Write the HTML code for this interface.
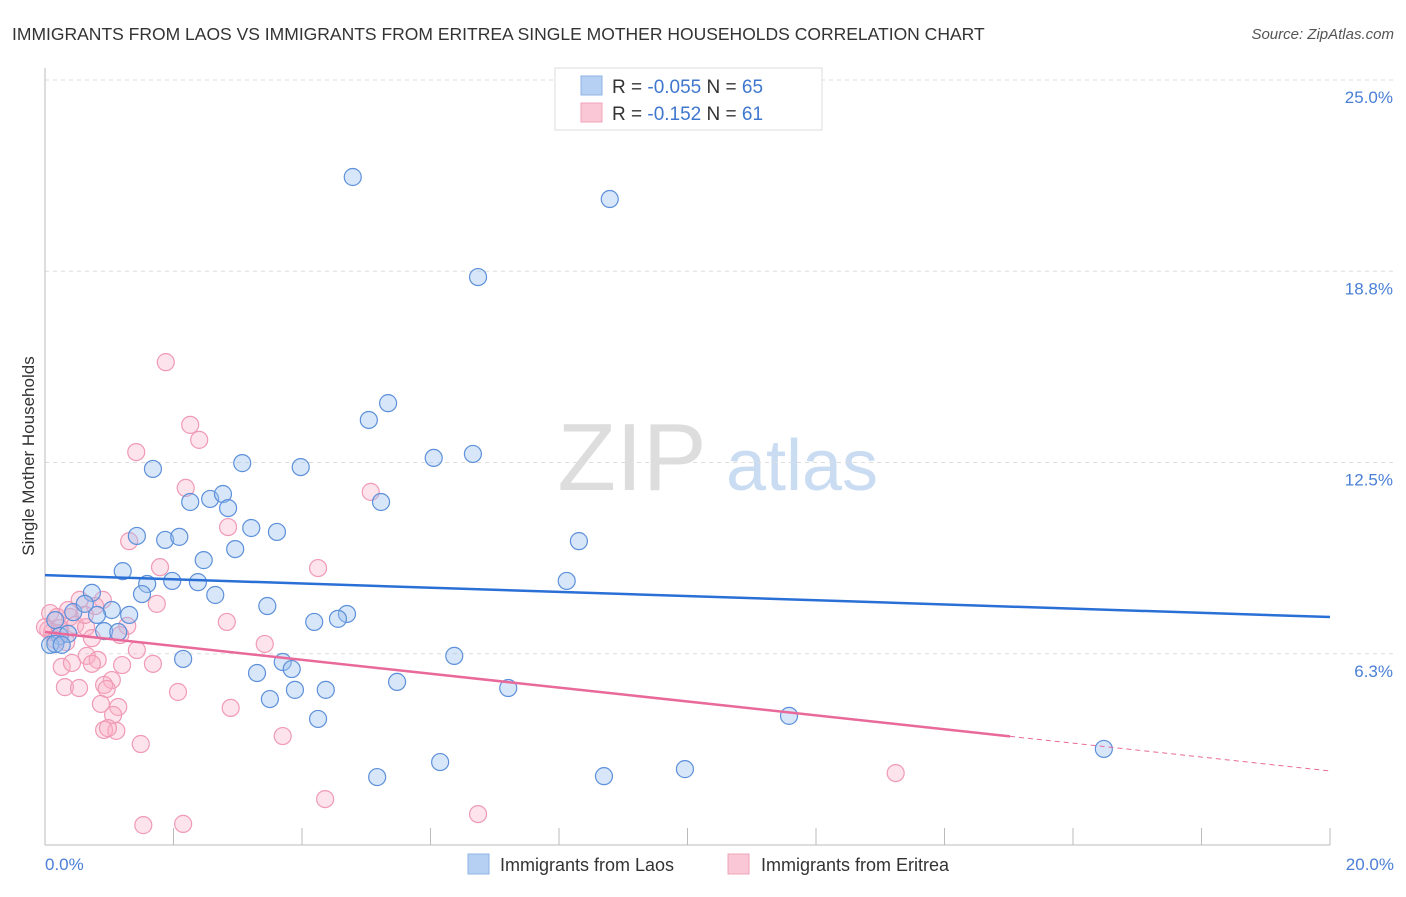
<!DOCTYPE html>
<html><head><meta charset="utf-8"><style>
body{margin:0;background:#fff;font-family:"Liberation Sans",sans-serif;}
svg text{font-family:"Liberation Sans",sans-serif;}
</style></head><body>
<svg id="c" width="1406" height="892" xmlns="http://www.w3.org/2000/svg">
<text x="12" y="40" font-size="17.5" fill="#333">IMMIGRANTS FROM LAOS VS IMMIGRANTS FROM ERITREA SINGLE MOTHER HOUSEHOLDS CORRELATION CHART</text>
<text x="1394" y="39" font-size="15" fill="#555" text-anchor="end" font-style="italic">Source: ZipAtlas.com</text>
<text x="632" y="490" font-size="96" fill="#ddd" text-anchor="middle" font-family="Liberation Serif">ZIP</text>
<text x="802" y="490" font-size="72" fill="#c9dcf2" text-anchor="middle">atlas</text>
<text transform="translate(34,456) rotate(-90)" font-size="17" fill="#333" text-anchor="middle">Single Mother Households</text>
<g id="grid"></g><g id="pts"></g><g id="lines"></g>
<g>
<rect x="555" y="68" width="267" height="62" fill="#fff" stroke="#ddd"/>
<rect x="581" y="76" width="21" height="19" fill="#b6d0f3" stroke="#8fb3e6"/>
<rect x="581" y="103" width="21" height="19" fill="#fac7d6" stroke="#f0a3bb"/>
<text x="612" y="93" font-size="19" fill="#333">R = <tspan fill="#3f77cf">-0.055</tspan>   N = <tspan fill="#3f77cf">65</tspan></text>
<text x="612" y="120" font-size="19" fill="#333">R =  <tspan fill="#3f77cf"> -0.152</tspan>   N =  <tspan fill="#3f77cf">61</tspan></text>
</g>
<g>
<rect x="468" y="854" width="21" height="20" fill="#b6d0f3" stroke="#8fb3e6"/>
<text x="500" y="871" font-size="18" fill="#333">Immigrants from Laos</text>
<rect x="728" y="854" width="21" height="20" fill="#fac7d6" stroke="#f0a3bb"/>
<text x="761" y="871" font-size="18" fill="#333">Immigrants from Eritrea</text>
</g>
</svg>
<script>
const yTicks=[25,18.75,12.5,6.25];
const yTickLabels=["25.0%","18.8%","12.5%","6.3%"];
const xTickLabels=["0.0%","20.0%"];
const laosX=[4.79,8.79,6.74,5.34,5.04,6.05,6.66,1.68,3.07,3.98,2.26,2.57,2.77,2.85,5.23,3.21,3.61,1.43,1.87,2.09,2.96,2.47,8.31,1.21,1.59,1.98,2.38,8.12,1.51,2.65,0.73,3.46,1.04,0.44,0.81,1.31,4.70,4.56,4.19,0.92,1.14,0.62,0.16,0.23,0.36,0.08,0.16,0.26,2.15,3.70,6.37,3.84,3.30,4.37,3.89,5.48,7.21,3.50,4.25,11.58,16.48,6.15,5.17,8.70,9.96];
const laosY=[21.83,21.11,18.56,14.44,13.89,12.65,12.78,12.29,12.48,12.35,11.21,11.31,11.47,11.01,11.21,10.36,10.23,10.10,9.97,10.07,9.67,9.31,9.93,8.95,8.53,8.63,8.59,8.63,8.20,8.17,8.24,7.81,7.68,7.61,7.52,7.52,7.55,7.39,7.29,6.99,6.96,7.88,7.35,6.83,6.90,6.54,6.57,6.54,6.08,5.98,6.18,5.75,5.62,5.07,5.07,5.33,5.13,4.77,4.12,4.22,3.14,2.71,2.22,2.25,2.48];
const eritX=[1.88,2.26,2.40,1.42,2.19,5.07,2.85,1.31,1.79,4.25,1.74,2.83,3.42,0.90,0.54,1.28,0.78,0.08,0.19,0.39,0.47,0.05,0.11,0.23,0,0.64,0.33,0.73,1.43,0.65,0.82,0.73,1.20,0.26,0.42,1.68,1.04,0.92,0.96,0.31,0.53,2.07,0.87,1.14,1.06,0.92,1.11,0.98,2.89,1.49,3.70,4.36,1.53,2.15,6.74,13.24,0.23,0.16,0.36,0.62,1.17];
const eritY=[15.78,13.73,13.24,12.84,11.67,11.54,10.39,9.93,9.08,9.05,7.88,7.29,6.57,8.01,8.01,7.16,7.81,7.58,7.45,7.45,7.19,7.03,6.96,6.93,7.12,7.12,6.63,6.76,6.37,6.18,6.05,5.92,5.88,5.82,5.95,5.92,5.39,5.23,5.10,5.16,5.13,5.00,4.61,4.51,4.25,3.76,3.73,3.82,4.48,3.30,3.56,1.50,0.65,0.69,1.01,2.35,7.09,6.70,7.68,7.52,6.86];
const laosTrend=[8.82,7.45];
const eritTrend=[6.96,2.42];
const eritSolidEnd=15.02;
const NS="http://www.w3.org/2000/svg";
const X=v=>45+v/20*1285, Y=v=>845-v*30.6;
function mk(t,a,p){const e=document.createElementNS(NS,t);for(const k in a)e.setAttribute(k,a[k]);p.appendChild(e);return e;}
const g=document.getElementById('grid');
yTicks.forEach((t,i)=>{
 const l=mk('line',{x1:45,x2:1393,y1:Y(t),y2:Y(t),stroke:'#ddd','stroke-dasharray':'4,4'},g);
 
 
 const tx=mk('text',{x:1393,y:Y(t)+23,'font-size':17,fill:'#4a7fd6','text-anchor':'end'},g);
 tx.textContent=yTickLabels[i];
 
 
});
const ax=mk('line',{x1:45,x2:45,y1:68,y2:845,stroke:'#bbb'},g);


const bx=mk('line',{x1:45,x2:1330,y1:845,y2:845,stroke:'#bbb'},g);


for(let i=0;i<=10;i++){
 const t=mk('line',{x1:X(i*2),x2:X(i*2),y1:828,y2:845,stroke:'#bbb'},g);
 
 
}
[[0,'start',45],[20,'end',1394]].forEach((d,i)=>{
 const tx=mk('text',{x:d[2],y:870,'font-size':17,fill:'#4a7fd6','text-anchor':d[1]},g);
 tx.textContent=xTickLabels[i];
 
 
});
const p=document.getElementById('pts');
eritX.forEach((x,i)=>{
 const c=mk('circle',{cx:X(x),cy:Y(eritY[i]),r:8.5,fill:'rgba(248,176,198,0.35)',stroke:'#f09ab5','stroke-width':1.2},p);
 
 
});
laosX.forEach((x,i)=>{
 const c=mk('circle',{cx:X(x),cy:Y(laosY[i]),r:8.5,fill:'rgba(156,192,238,0.4)',stroke:'#5d90da','stroke-width':1.2},p);
 
 
});
const L=document.getElementById('lines');
const lb=mk('line',{x1:X(0),y1:Y(laosTrend[0]),x2:X(20),y2:Y(laosTrend[1]),stroke:'#2a6fd6','stroke-width':2.5},L);


const ey=eritTrend[0]+(eritTrend[1]-eritTrend[0])*eritSolidEnd/20;
const lp=mk('line',{x1:X(0),y1:Y(eritTrend[0]),x2:X(eritSolidEnd),y2:Y(ey),stroke:'#e8699a','stroke-width':2.5},L);


const ld=mk('line',{x1:X(eritSolidEnd),y1:Y(ey),x2:X(20),y2:Y(eritTrend[1]),stroke:'#e8699a','stroke-width':1,'stroke-dasharray':'5,4'},L);


</script>
</body></html>
